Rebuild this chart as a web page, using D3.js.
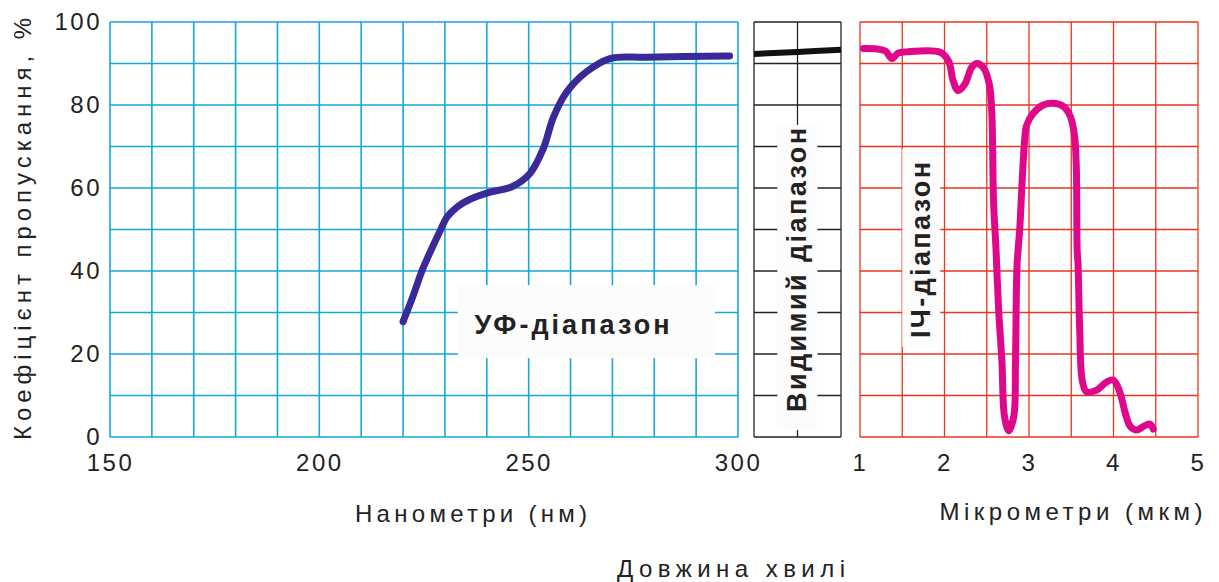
<!DOCTYPE html>
<html>
<head>
<meta charset="utf-8">
<script src="https://cdnjs.cloudflare.com/ajax/libs/d3/7.8.5/d3.min.js"></script>
<style>
  body { margin: 0; background: #fff; }
  text { font-family: "Liberation Sans", Arial, sans-serif; fill: #222; }
</style>
</head>
<body>
<div id="chart"></div>
<script>
// UV range, nm
const uvWavelength = [220, 222.4, 224.5, 226.9, 229, 230.5, 233, 236, 240.8, 246, 250.3, 253.5, 255.9, 259, 263.8, 269.4, 278, 298]
const uvTransmission = [27.8, 34, 40, 45.5, 50, 53, 55.5, 57.3, 59, 60.3, 63.5, 69.5, 77, 83, 88, 91.2, 91.5, 91.8]

// visible range, um (no labels in the picture)
const visWavelength = [0.38, 0.57, 0.76]
const visTransmission = [92.3, 92.8, 93.3]

// IR range, um
const irWavelength = [1.04, 1.2, 1.3, 1.38, 1.45, 1.55, 1.95, 2.05, 2.1, 2.16, 2.24, 2.32, 2.38, 2.46, 2.53, 2.56, 2.58, 2.61,
  2.64, 2.68, 2.71, 2.76, 2.82, 2.84, 2.85, 2.86, 2.89, 2.92, 2.95, 2.97, 3.05, 3.17, 3.29, 3.41, 3.49, 3.54, 3.56, 3.57,
  3.58, 3.6, 3.63, 3.68, 3.8, 3.92, 4.0, 4.08, 4.14, 4.2, 4.28, 4.35, 4.43, 4.47]
const irTransmission = [93.6, 93.5, 93, 91.2, 92.5, 92.8, 92.7, 90.5, 86, 83.5, 85, 89, 90, 89, 85, 78, 57, 45,
  31, 18, 5, 1.5, 5, 18, 34, 42, 50, 62, 72, 75, 78, 80, 80.4, 79.6, 77.2, 72.4, 65, 45,
  41.8, 25.8, 13.7, 10.9, 11.3, 13.3, 13.7, 10.5, 5.7, 2.5, 1.7, 2.5, 3.1, 1.9]

const yTicks = [0, 20, 40, 60, 80, 100]
const uvTicks = [150, 200, 250, 300]
const irTicks = [1, 2, 3, 4, 5]

const W = 1219, H = 582
const svg = d3.select('#chart').append('svg').attr('width', W).attr('height', H)

const y = d3.scaleLinear().domain([0, 100]).range([437, 22])
const xUV = d3.scaleLinear().domain([150, 300]).range([110, 738])
const xVis = d3.scaleLinear().domain([0.38, 0.76]).range([754, 841])
const xIR = d3.scaleLinear().domain([1, 5]).range([860, 1198])

const gridY = d3.range(0, 101, 10)

function grid(x, xs, color, width) {
  const g = svg.append('g')
  g.selectAll('line.v').data(xs).join('line')
    .attr('x1', d => x(d)).attr('x2', d => x(d))
    .attr('y1', y(0)).attr('y2', y(100))
    .attr('stroke', color).attr('stroke-width', width)
  g.selectAll('line.h').data(gridY).join('line')
    .attr('x1', x.range()[0]).attr('x2', x.range()[1])
    .attr('y1', d => y(d)).attr('y2', d => y(d))
    .attr('stroke', color).attr('stroke-width', width)
}

grid(xUV, d3.range(150, 301, 10), '#16a6dc', 1.6)
grid(xVis, visWavelength, '#222', 1.3)
grid(xIR, d3.range(1, 5.01, 0.5), '#e8361e', 1.3)

// white boxes behind the range labels
function labelBox(x0, x1, y0, y1) {
  svg.append('rect')
    .attr('x', x0).attr('y', y0)
    .attr('width', x1 - x0).attr('height', y1 - y0)
    .attr('fill', '#fcfcfc')
}
labelBox(xUV(233.1), xUV(294.5), y(36.6), y(19.0))
labelBox(xVis(0.482), xVis(0.657), y(75.2), y(1.7))
labelBox(xIR(1.5), xIR(1.95), y(69.4), y(21.7))

svg.append('text')
  .attr('x', 572).attr('y', 334)
  .attr('text-anchor', 'middle')
  .attr('font-size', 27).attr('font-weight', 'bold')
  .attr('textLength', 195).attr('lengthAdjust', 'spacing')
  .text('УФ-діапазон')

svg.append('text')
  .attr('transform', 'translate(806,270) rotate(-90)')
  .attr('text-anchor', 'middle')
  .attr('font-size', 27).attr('font-weight', 'bold')
  .attr('textLength', 284).attr('lengthAdjust', 'spacing')
  .text('Видимий діапазон')

svg.append('text')
  .attr('transform', 'translate(930,250) rotate(-90)')
  .attr('text-anchor', 'middle')
  .attr('font-size', 27).attr('font-weight', 'bold')
  .attr('textLength', 176).attr('lengthAdjust', 'spacing')
  .text('ІЧ-діапазон')

// curves
function curve(x, xs, ys, color, width, cap) {
  const line = d3.line()
    .x((d, i) => x(xs[i]))
    .y(d => y(d))
    .curve(d3.curveCatmullRom.alpha(0.5))
  svg.append('path')
    .attr('d', line(ys))
    .attr('fill', 'none')
    .attr('stroke', color).attr('stroke-width', width)
    .attr('stroke-linejoin', 'round').attr('stroke-linecap', cap)
}
curve(xUV, uvWavelength, uvTransmission, '#3a2a98', 7, 'round')
curve(xVis, visWavelength, visTransmission, '#111', 6, 'butt')
curve(xIR, irWavelength, irTransmission, '#e0088a', 7, 'round')

// axes
const axFont = g => {
  g.select('.domain').remove()
  g.selectAll('text')
    .attr('font-size', 24).attr('fill', '#222')
    .attr('letter-spacing', 2.5)
    .attr('font-family', '"Liberation Sans", Arial, sans-serif')
}

svg.append('g')
  .attr('transform', 'translate(' + xUV(150) + ',0)')
  .call(d3.axisLeft(y).tickValues(yTicks).tickSize(0).tickPadding(8))
  .call(axFont)

svg.append('g')
  .attr('transform', 'translate(0,' + y(0) + ')')
  .call(d3.axisBottom(xUV).tickValues(uvTicks).tickSize(0).tickPadding(17))
  .call(axFont)

svg.append('g')
  .attr('transform', 'translate(0,' + y(0) + ')')
  .call(d3.axisBottom(xIR).tickValues(irTicks).tickFormat(d3.format('d')).tickSize(0).tickPadding(17))
  .call(axFont)

// titles
svg.append('text')
  .attr('transform', 'translate(31,229) rotate(-90)')
  .attr('text-anchor', 'middle')
  .attr('font-size', 24)
  .attr('textLength', 422).attr('lengthAdjust', 'spacing')
  .text('Коефіцієнт пропускання, %')

svg.append('text')
  .attr('x', 471).attr('y', 522)
  .attr('text-anchor', 'middle').attr('font-size', 24)
  .attr('textLength', 232).attr('lengthAdjust', 'spacing')
  .text('Нанометри (нм)')

svg.append('text')
  .attr('x', 1071).attr('y', 520)
  .attr('text-anchor', 'middle').attr('font-size', 24)
  .attr('textLength', 263).attr('lengthAdjust', 'spacing')
  .text('Мікрометри (мкм)')

svg.append('text')
  .attr('x', 731).attr('y', 577)
  .attr('text-anchor', 'middle').attr('font-size', 24)
  .attr('textLength', 228).attr('lengthAdjust', 'spacing')
  .text('Довжина хвилі')
</script>
</body>
</html>
